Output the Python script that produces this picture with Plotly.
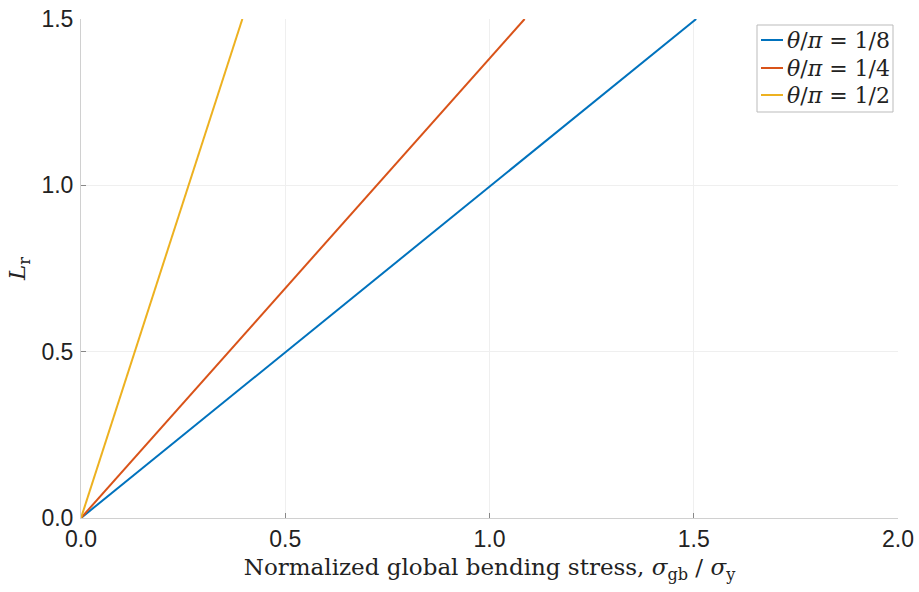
import plotly.graph_objects as go

# Straight lines from the origin: L_r against normalized global bending stress
x_start = [0.0, 0.0, 0.0]
x_end = [1.506, 1.086, 0.395]
lr_start = [0.0, 0.0, 0.0]
lr_end = [1.5, 1.5, 1.5]
series_names = ["<i>θ</i>/<i>π</i> = 1/8", "<i>θ</i>/<i>π</i> = 1/4", "<i>θ</i>/<i>π</i> = 1/2"]
colors = ["#0072BD", "#D95319", "#EDB120"]

x_ticks = [0.0, 0.5, 1.0, 1.5, 2.0]
x_tick_text = ["0.0", "0.5", "1.0", "1.5", "2.0"]
y_ticks = [0.0, 0.5, 1.0, 1.5]
y_tick_text = ["0.0", "0.5", "1.0", "1.5"]

serif = "DejaVu Serif, Liberation Serif, serif"
sans = "Liberation Sans, Arial, sans-serif"

W, H = 919, 592
ML, MR, MT, MB = 81, 21, 19, 74
PW, PH = W - ML - MR, H - MT - MB


def px_x(px):
    return (px - ML) / PW


def px_y(py):
    return (H - MB - py) / PH


fig = go.Figure()
for i in range(len(series_names)):
    fig.add_trace(go.Scatter(
        x=[x_start[i], x_end[i]],
        y=[lr_start[i], lr_end[i]],
        mode="lines",
        name=series_names[i],
        line=dict(color=colors[i], width=2),
        showlegend=False,
    ))

# Compact boxed legend in the upper-right corner
box_l, box_r, box_t, box_b = 757, 893, 25, 112
row_y = [40, 68, 95]
shapes = [dict(
    type="rect", xref="paper", yref="paper",
    x0=px_x(box_l), x1=px_x(box_r), y0=px_y(box_b), y1=px_y(box_t),
    line=dict(color="#bbbbbb", width=1), fillcolor="white", layer="above",
)]
annotations = []
for i in range(len(series_names)):
    shapes.append(dict(
        type="line", xref="paper", yref="paper",
        x0=px_x(761), x1=px_x(783), y0=px_y(row_y[i]), y1=px_y(row_y[i]),
        line=dict(color=colors[i], width=2), layer="above",
    ))
    annotations.append(dict(
        xref="paper", yref="paper", x=px_x(785), y=px_y(row_y[i]),
        xanchor="left", yanchor="middle", text=series_names[i], showarrow=False,
        font=dict(family=serif, size=22, color="#222222"),
    ))

axis_common = dict(
    showgrid=True,
    gridcolor="#efefef",
    gridwidth=1,
    zeroline=False,
    showline=True,
    linecolor="#d0d0d0",
    linewidth=1,
    ticks="inside",
    ticklen=5,
    tickcolor="#888888",
    tickwidth=1,
    automargin=False,
    tickfont=dict(family=sans, size=23, color="#222222"),
)

fig.update_layout(
    width=W,
    height=H,
    margin=dict(l=ML, r=MR, t=MT, b=MB),
    paper_bgcolor="white",
    plot_bgcolor="white",
    xaxis=dict(
        range=[0, 2],
        tickvals=x_ticks,
        ticktext=x_tick_text,
        ticklabelstandoff=0,
        title=dict(
            text="Normalized global bending stress, <i>σ</i><sub>gb</sub> / <i>σ</i><sub>y</sub>",
            font=dict(family=serif, size=23, color="#222222"),
            standoff=8,
        ),
        **axis_common,
    ),
    yaxis=dict(
        range=[0, 1.5],
        tickvals=y_ticks,
        ticktext=y_tick_text,
        ticklabelstandoff=2,
        title=dict(
            text="<i>L</i><sub>r</sub>",
            font=dict(family=serif, size=23, color="#222222"),
            standoff=9,
        ),
        **axis_common,
    ),
    shapes=shapes,
    annotations=annotations,
    showlegend=False,
)

fig.write_html("out.html")
